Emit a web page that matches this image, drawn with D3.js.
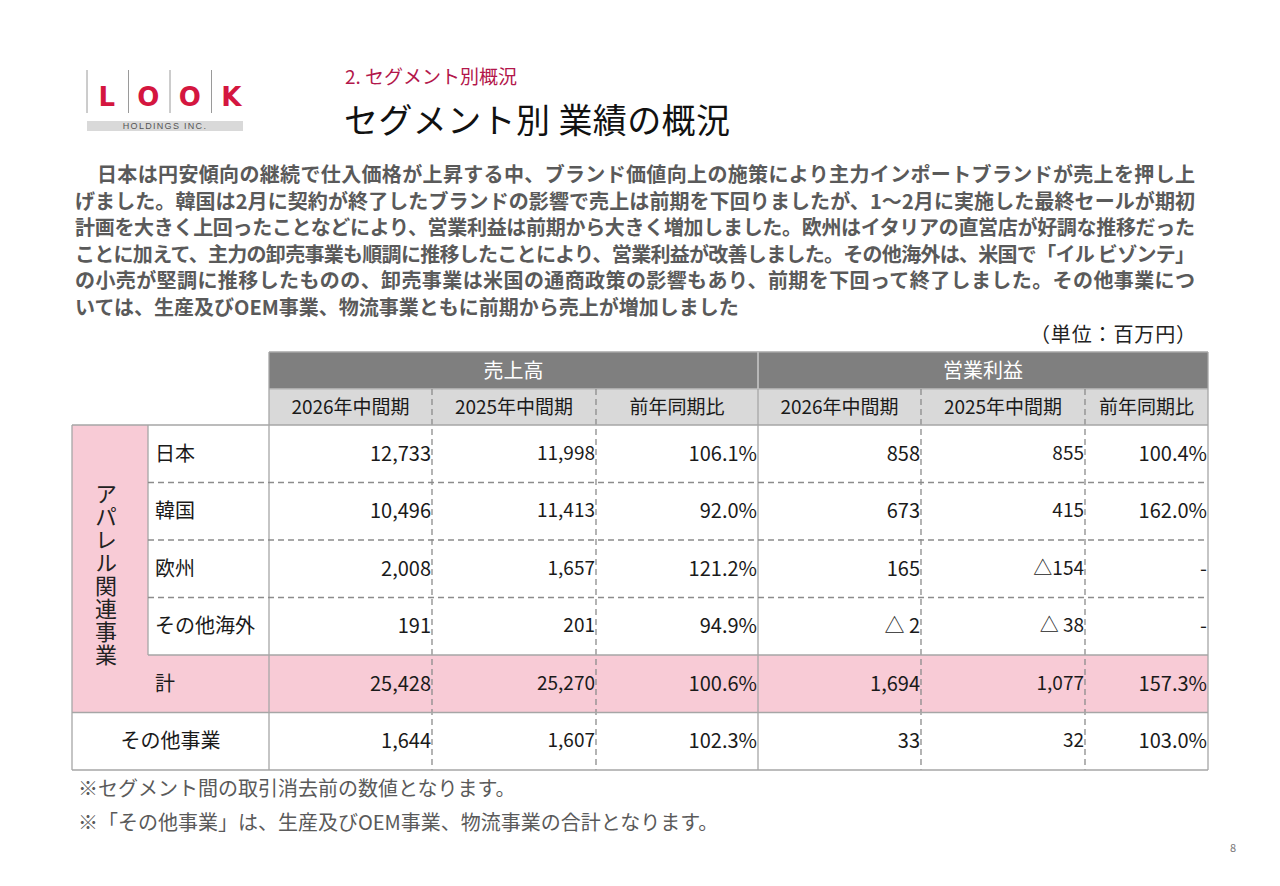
<!DOCTYPE html>
<html><head><meta charset="utf-8">
<script src="https://cdn.jsdelivr.net/npm/d3@7"></script>
<style>
html,body{margin:0;padding:0;background:#fff;}
svg{display:block;font-family:"Noto Sans CJK JP","Noto Sans",sans-serif;}
</style></head>
<body>
<script>
// ---- data ----
const rowLabels = ["日本","韓国","欧州","その他海外","計","その他事業"];
const groupLabels = ["売上高","営業利益"];
const subLabels = ["2026年中間期","2025年中間期","前年同期比","2026年中間期","2025年中間期","前年同期比"];
const sales2026 = ["12,733","10,496","2,008","191","25,428","1,644"];
const sales2025 = ["11,998","11,413","1,657","201","25,270","1,607"];
const salesYoY  = ["106.1%","92.0%","121.2%","94.9%","100.6%","102.3%"];
const op2026    = ["858","673","165","△ 2","1,694","33"];
const op2025    = ["855","415","△154","△ 38","1,077","32"];
const opYoY     = ["100.4%","162.0%","-","-","157.3%","103.0%"];
const paragraph = [
 "日本は円安傾向の継続で仕入価格が上昇する中、ブランド価値向上の施策により主力インポートブランドが売上を押し上",
 "げました。韓国は2月に契約が終了したブランドの影響で売上は前期を下回りましたが、1〜2月に実施した最終セールが期初",
 "計画を大きく上回ったことなどにより、営業利益は前期から大きく増加しました。欧州はイタリアの直営店が好調な推移だった",
 "ことに加えて、主力の卸売事業も順調に推移したことにより、営業利益が改善しました。その他海外は、米国で「イル ビゾンテ」",
 "の小売が堅調に推移したものの、卸売事業は米国の通商政策の影響もあり、前期を下回って終了しました。その他事業につ",
 "いては、生産及びOEM事業、物流事業ともに前期から売上が増加しました"
];
const notes = ["※セグメント間の取引消去前の数値となります。","※「その他事業」は、生産及びOEM事業、物流事業の合計となります。"];
const sideLabel = "アパレル関連事業";

const W = 1280, H = 886;
const svg = d3.select("body").append("svg").attr("width", W).attr("height", H);

// ---- logo ----
const logo = svg.append("g");
const logoLetters = ["L","O","O","K"];
const lx = d3.scaleBand().domain(d3.range(4)).range([87, 253]);
logo.selectAll("line").data(d3.range(4)).join("line")
  .attr("x1", d => lx(d)).attr("x2", d => lx(d)).attr("y1", 70).attr("y2", 113)
  .attr("stroke", "#9a9a9a").attr("stroke-width", 1);
logo.selectAll("text.l").data(logoLetters).join("text").attr("class","l")
  .attr("x", (d,i) => lx(i) + lx.bandwidth()/2 - 1).attr("y", 106)
  .attr("text-anchor","middle").attr("font-family","DejaVu Sans, Liberation Sans, sans-serif")
  .attr("font-weight","bold").attr("font-size", 26).attr("fill","#d4163f").text(d => d);
logo.append("rect").attr("x",87).attr("y",121).attr("width",156).attr("height",10).attr("fill","#d9d9d9");
logo.append("text").attr("x",165).attr("y",129).attr("text-anchor","middle")
  .attr("font-family","Liberation Sans, sans-serif").attr("font-size",9).attr("letter-spacing",1.3)
  .attr("fill","#555").text("HOLDINGS INC.");

// ---- titles ----
svg.append("text").attr("x",345).attr("y",84).attr("font-size",19).attr("fill","#b3174b").text("2. セグメント別概況");
svg.append("text").attr("x",344).attr("y",133).attr("font-size",34).attr("fill","#111")
  .attr("textLength",386).attr("lengthAdjust","spacing").text("セグメント別 業績の概況");

// ---- paragraph ----
const py = d3.scaleLinear().domain([0,5]).range([182, 315]);
svg.append("g").selectAll("text").data(paragraph).join("text")
  .attr("x",(d,i)=> i===0 ? 97 : 75).attr("y",(d,i)=>py(i))
  .attr("font-size",20).attr("font-weight","bold").attr("fill","#5a5a5a")
  .each(function(d,i){ if(i<5){ d3.select(this).attr("textLength", i===0?1098:1120).attr("lengthAdjust","spacing"); } })
  .text(d=>d);

svg.append("text").attr("x",1196).attr("y",342).attr("text-anchor","end").attr("font-size",20).attr("fill","#222")
  .attr("textLength",166).attr("lengthAdjust","spacing").text("（単位：百万円）");

// ---- table ----
const colKeys = ["s26","s25","sy","o26","o25","oy"];
const colW = [163,164,162,163,164,123];
const tableX = 269;
const lefts = colW.map((w,i)=> tableX + d3.sum(colW.slice(0,i)));
const x = d3.scaleOrdinal().domain(colKeys).range(lefts);
const wOf = d3.scaleOrdinal().domain(colKeys).range(colW);
const tableRight = tableX + d3.sum(colW);
const y = d3.scaleBand().domain(rowLabels).range([425, 770]);
const rh = y.bandwidth();
const hdrTop = 352, hdrMid = 389;
const leftX = 72, labX = 148;
const border = "#a6a6a6";
const pink = "#f8cbd6";

const values = {s26:sales2026, s25:sales2025, sy:salesYoY, o26:op2026, o25:op2025, oy:opYoY};
const g = svg.append("g");

// backgrounds
g.append("rect").attr("x",tableX).attr("y",hdrTop).attr("width",tableRight-tableX).attr("height",hdrMid-hdrTop).attr("fill","#7f7f7f");
g.append("rect").attr("x",tableX).attr("y",hdrMid).attr("width",tableRight-tableX).attr("height",y.range()[0]-hdrMid).attr("fill","#d9d9d9");
g.append("rect").attr("x",leftX).attr("y",y("日本")).attr("width",labX-leftX).attr("height",y("計")-y("日本")).attr("fill",pink);
g.append("rect").attr("x",leftX).attr("y",y("計")).attr("width",tableRight-leftX).attr("height",rh).attr("fill",pink);

// header text
const groupCenters = [ (x("s26")+x("o26"))/2, (x("o26")+tableRight)/2 ];
g.selectAll("text.grp").data(groupLabels).join("text").attr("class","grp")
  .attr("x",(d,i)=>groupCenters[i]).attr("y",(hdrTop+hdrMid)/2+7).attr("text-anchor","middle")
  .attr("font-size",20).attr("fill","#fff").text(d=>d);
g.selectAll("text.sub").data(subLabels).join("text").attr("class","sub")
  .attr("x",(d,i)=>x(colKeys[i])+wOf(colKeys[i])/2).attr("y",(hdrMid+y.range()[0])/2+7).attr("text-anchor","middle")
  .attr("font-size",19).attr("fill","#1a1a1a").text(d=>d);

// side label (vertical, one text element)
g.append("text").attr("x",106).attr("y",483)
  .style("writing-mode","vertical-rl").style("text-orientation","upright")
  .attr("font-size",22).attr("letter-spacing",1).attr("fill","#222").text(sideLabel);

// row labels
g.selectAll("text.row").data(rowLabels).join("text").attr("class","row")
  .attr("x",d=> d==="その他事業" ? (leftX+tableX)/2 : 155)
  .attr("text-anchor",d=> d==="その他事業" ? "middle" : "start")
  .attr("y",d=>y(d)+rh/2+7).attr("font-size",20).attr("fill","#1a1a1a").text(d=>d);

// values
colKeys.forEach(k=>{
  const small = (k==="s25"||k==="o25");
  g.selectAll("text.v"+k).data(values[k]).join("text").attr("class","v"+k)
    .attr("x", x(k)+wOf(k)-1).attr("y",(d,i)=>y(rowLabels[i])+rh/2+(small?6:7))
    .attr("text-anchor","end").attr("font-size", small?19:20).attr("fill","#1a1a1a").text(d=>d);
});

// lines
const line = (x1,y1,x2,y2,dash,col)=> g.append("line").attr("x1",x1).attr("y1",y1).attr("x2",x2).attr("y2",y2)
  .attr("stroke",col||border).attr("stroke-width",1.3).attr("stroke-dasharray",dash?"6,4":null);
line(tableX,hdrTop,tableRight,hdrTop);
line(tableX,hdrMid,tableRight,hdrMid,false,"#bdbdbd");
["s25","sy","o25","oy"].forEach(k=> line(x(k),hdrMid,x(k),y.range()[1],true,"#8c8c8c"));
line(tableX,hdrTop,tableX,y.range()[1]);
line(x("o26"),hdrTop,x("o26"),y.range()[1]);
line(x("o26"),hdrTop,x("o26"),hdrMid,false,"#c8c8c8");
line(tableRight,hdrTop,tableRight,y.range()[1]);
line(leftX,y.range()[0],leftX,y.range()[1]);
line(labX,y("日本"),labX,y("計"));
line(leftX,y("日本"),tableRight,y("日本"));
["韓国","欧州","その他海外"].forEach(r=> line(labX,y(r),tableRight,y(r),true,"#8c8c8c"));
line(labX,y("計"),tableRight,y("計"));
line(leftX,y("その他事業"),tableRight,y("その他事業"));
line(leftX,y.range()[1],tableRight,y.range()[1]);

// notes
svg.append("g").selectAll("text").data(notes).join("text")
  .attr("x",78).attr("y",(d,i)=>796+i*34).attr("font-size",20).attr("fill","#5a5a5a").text(d=>d);

svg.append("text").attr("x",1236).attr("y",852).attr("text-anchor","end").attr("font-size",11).attr("fill","#777").text("8");
</script>
</body></html>
